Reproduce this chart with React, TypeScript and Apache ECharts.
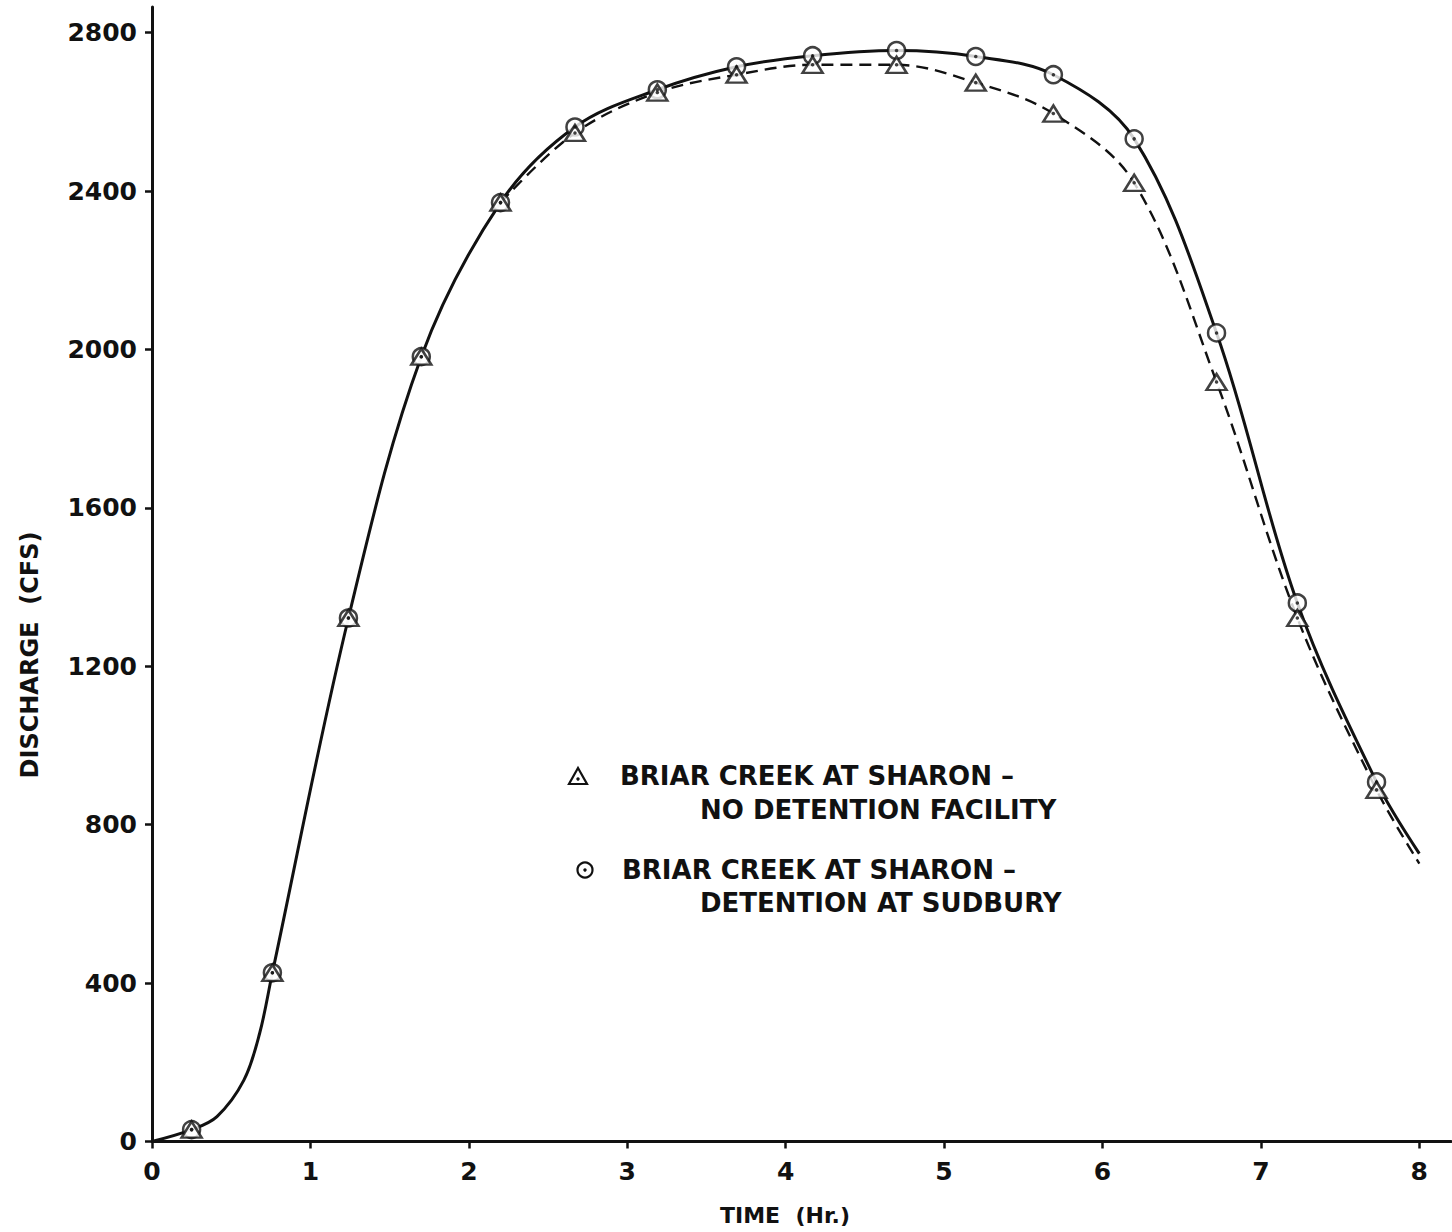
import React, { useEffect, useRef } from "react";
import * as echarts from "echarts";

const markerHours = [0.25, 0.76, 1.24, 1.7, 2.2, 2.67, 3.19, 3.69, 4.17, 4.7, 5.2, 5.69, 6.2, 6.72, 7.23, 7.73];
const noDetention = [30, 426, 1322, 1982, 2371, 2547, 2649, 2694, 2719, 2719, 2674, 2596, 2421, 1918, 1322, 888];
const detention = [30, 426, 1322, 1982, 2371, 2562, 2656, 2714, 2742, 2755, 2740, 2694, 2532, 2042, 1360, 908];

// Curves as drawn
const solidCurveHours = [0, 0.25, 0.41, 0.58, 0.68, 0.76, 1.24, 1.7, 2.2, 2.67, 3.19, 3.69, 4.17, 4.7, 5.2, 5.69, 6.2, 6.72, 7.23, 7.73, 8];
const solidCurve = [0, 30, 63, 155, 274, 426, 1322, 1982, 2371, 2562, 2656, 2714, 2742, 2755, 2740, 2694, 2532, 2042, 1360, 908, 727];
const dashedCurveHours = [2.2, 2.67, 3.19, 3.69, 4.17, 4.7, 5.2, 5.69, 6.2, 6.72, 7.23, 7.73, 8];
const dashedCurve = [2371, 2547, 2649, 2694, 2719, 2719, 2674, 2596, 2421, 1918, 1322, 888, 702];

const xTicks = [0, 1, 2, 3, 4, 5, 6, 7, 8];
const yTicks = [0, 400, 800, 1200, 1600, 2000, 2400, 2800];

const FONT = "DejaVu Sans";
const INK = "#111";

export default function App() {
  const ref = useRef<HTMLDivElement>(null);
  useEffect(() => {
    const chart = echarts.init(ref.current!, null, { renderer: "svg" });
    const zip = (xs: number[], ys: number[]) => xs.map((x, i) => [x, ys[i]]);
    const labelStyle = { fontFamily: FONT, fontWeight: "bold" as const, fontSize: 25, color: INK };
    const legendFont = `bold 26px '${FONT}'`;
    chart.setOption({
      animation: false,
      backgroundColor: "#fff",
      grid: { left: 152, top: 7, width: 1299, bottom: 90.5 },
      xAxis: {
        type: "value",
        min: 0,
        max: 8.2,
        axisLine: { lineStyle: { color: INK, width: 3 } },
        axisTick: { show: true, length: 7, lineStyle: { color: INK, width: 2.5 }, customValues: xTicks },
        axisLabel: { ...labelStyle, margin: 17, customValues: xTicks, formatter: (v: number) => String(v) },
        splitLine: { show: false },
      },
      yAxis: {
        type: "value",
        min: 0,
        max: 2865,
        axisLine: { show: true, lineStyle: { color: INK, width: 3 } },
        axisTick: { show: true, length: 7, lineStyle: { color: INK, width: 2.5 }, customValues: yTicks },
        axisLabel: { ...labelStyle, margin: 15, customValues: yTicks, formatter: (v: number) => String(v) },
        splitLine: { show: false },
      },
      series: [
        {
          name: "curve-detention",
          type: "line",
          data: zip(solidCurveHours, solidCurve),
          smooth: 0.35,
          showSymbol: false,
          lineStyle: { color: INK, width: 3 },
          z: 2,
        },
        {
          name: "curve-no-detention",
          type: "line",
          data: zip(dashedCurveHours, dashedCurve),
          smooth: 0.35,
          showSymbol: false,
          lineStyle: { color: INK, width: 2.4, type: [12, 7] },
          z: 2,
        },
        {
          name: "BRIAR CREEK AT SHARON - DETENTION AT SUDBURY",
          type: "scatter",
          data: zip(markerHours, detention),
          symbol: "circle",
          symbolSize: 17,
          itemStyle: { color: "#fff", borderColor: INK, borderWidth: 2.5 },
          z: 4,
        },
        {
          name: "BRIAR CREEK AT SHARON - NO DETENTION FACILITY",
          type: "scatter",
          data: zip(markerHours, noDetention),
          symbol: "triangle",
          symbolSize: [20, 16],
          itemStyle: { color: "#fff", borderColor: INK, borderWidth: 2.5 },
          z: 5,
        },
        {
          name: "dots",
          type: "scatter",
          data: [...zip(markerHours, noDetention), ...zip(markerHours, detention)],
          symbol: "circle",
          symbolSize: 3.5,
          itemStyle: { color: INK },
          z: 6,
          silent: true,
        },
      ],
      graphic: [
        {
          type: "text",
          x: 30,
          y: 655,
          rotation: Math.PI / 2,
          style: { text: "DISCHARGE  (CFS)", fill: INK, font: `bold 24px '${FONT}'`, textAlign: "center", textVerticalAlign: "middle" },
        },
        {
          type: "text",
          x: 785,
          y: 1215,
          style: { text: "TIME  (Hr.)", fill: INK, font: `bold 22px '${FONT}'`, textAlign: "center", textVerticalAlign: "middle" },
        },
        {
          type: "polygon",
          shape: { points: [[569, 784], [587, 784], [578, 768]] },
          style: { fill: "#fff", stroke: INK, lineWidth: 2.2 },
        },
        { type: "circle", shape: { cx: 578, cy: 779, r: 1.7 }, style: { fill: INK } },
        { type: "circle", shape: { cx: 585, cy: 870, r: 7.5 }, style: { fill: "#fff", stroke: INK, lineWidth: 2.2 } },
        { type: "circle", shape: { cx: 585, cy: 870, r: 1.7 }, style: { fill: INK } },
        {
          type: "text",
          x: 620,
          y: 776,
          style: { text: "BRIAR CREEK AT SHARON –", fill: INK, font: legendFont, textAlign: "left", textVerticalAlign: "middle" },
        },
        {
          type: "text",
          x: 700,
          y: 810,
          style: { text: "NO DETENTION FACILITY", fill: INK, font: legendFont, textAlign: "left", textVerticalAlign: "middle" },
        },
        {
          type: "text",
          x: 622,
          y: 870,
          style: { text: "BRIAR CREEK AT SHARON –", fill: INK, font: legendFont, textAlign: "left", textVerticalAlign: "middle" },
        },
        {
          type: "text",
          x: 700,
          y: 903,
          style: { text: "DETENTION AT SUDBURY", fill: INK, font: legendFont, textAlign: "left", textVerticalAlign: "middle" },
        },
      ],
    });
    return () => chart.dispose();
  }, []);
  return (
    <div
      ref={ref}
      style={{ position: "fixed", left: 0, top: 0, width: 1452, height: 1232, background: "#fff" }}
    />
  );
}
